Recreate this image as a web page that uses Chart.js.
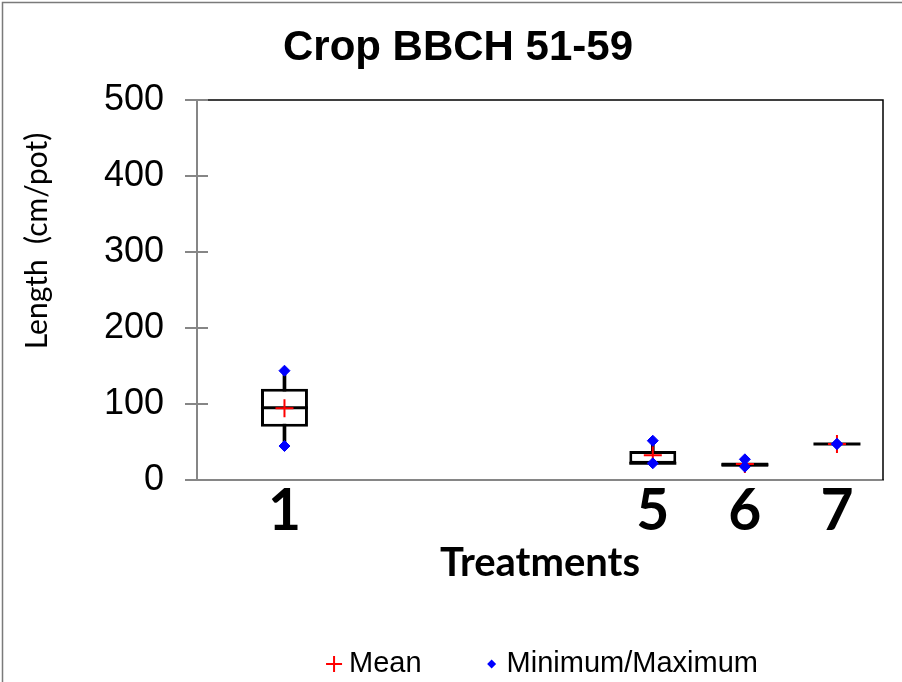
<!DOCTYPE html>
<html>
<head>
<meta charset="utf-8">
<title>Crop BBCH 51-59</title>
<script src="https://cdn.jsdelivr.net/npm/chart.js@4.4.1/dist/chart.umd.min.js"></script>
<style>
  html, body { margin: 0; padding: 0; background: #fff; }
</style>
</head>
<body>
<canvas id="boxChart" width="902" height="682"></canvas>
<script>
// box plot values per treatment (cm/pot)
const treatments = [1, 5, 6, 7];
const minValues = [44.7, 22, 17.5, 47.4];
const q1Values = [70, 21.5, 17.5, 47.4];
const medianValues = [95, 22, 20, 47.4];
const q3Values = [120, 38, 23, 47.4];
const maxValues = [143.8, 51.7, 27.2, 47.4];
const meanValues = [94.5, 32.5, 21, 47.4];
const yTicks = [0, 100, 200, 300, 400, 500];
const legendLabels = ['Mean', 'Minimum/Maximum'];

const axisGray = '#868686';

function points(vals) {
    return treatments.map((t, i) => ({ x: t, y: vals[i] }));
}

function range(lo, hi) {
    return treatments.map((t, i) => ({ x: t, y: [lo[i], hi[i]] }));
}

// frame, tick marks crossing the y axis, rotated y title and the legend
const decorations = {
    id: 'decorations',
    beforeDraw(chart) {
        const ctx = chart.ctx;
        ctx.save();
        ctx.strokeStyle = '#7a7a7a';
        ctx.lineWidth = 1.5;
        ctx.strokeRect(2.5, 2.5, chart.width + 20, chart.height + 20);
        ctx.restore();
    },
    afterDraw(chart) {
        const ctx = chart.ctx;
        const area = chart.chartArea;
        const yScale = chart.scales.y;
        ctx.save();

        ctx.strokeStyle = '#000';
        ctx.lineWidth = 1.5;
        ctx.beginPath();
        ctx.moveTo(area.left, area.top);
        ctx.lineTo(area.right, area.top);
        ctx.lineTo(area.right, area.bottom);
        ctx.stroke();

        ctx.strokeStyle = axisGray;
        ctx.lineWidth = 2;
        yScale.ticks.forEach(t => {
            const y = yScale.getPixelForValue(t.value);
            ctx.beginPath();
            ctx.moveTo(area.left - 12, y);
            ctx.lineTo(area.left + 11, y);
            ctx.stroke();
        });

        // y axis title
        ctx.save();
        ctx.translate(area.left - 160, area.top + (area.bottom - area.top) * 0.371);
        ctx.rotate(-Math.PI / 2);
        ctx.fillStyle = '#000';
        ctx.font = '30px Lato';
        ctx.textAlign = 'center';
        ctx.textBaseline = 'middle';
        ctx.fillText('Length  (cm/pot)', 0, 0);
        ctx.restore();

        // legend
        ctx.font = '29px "Liberation Sans"';
        ctx.textBaseline = 'middle';
        ctx.textAlign = 'left';
        const items = chart.data.datasets.filter(d => legendLabels.includes(d.label));
        const iconGap = 15, itemGap = 70;
        const widths = items.map(d => ctx.measureText(d.label).width);
        let total = 8;
        widths.forEach((w, i) => { total += iconGap + w + (i < widths.length - 1 ? itemGap : 0); });
        let x = (area.left + area.right) / 2 - total / 2 + 10;
        const y = chart.height - 18;
        items.forEach((d, i) => {
            ctx.fillStyle = d.pointBackgroundColor;
            ctx.strokeStyle = d.pointBorderColor;
            ctx.lineWidth = 2;
            ctx.beginPath();
            if (d.pointStyle === 'cross') {
                ctx.moveTo(x - 8, y); ctx.lineTo(x + 8, y);
                ctx.moveTo(x, y - 8); ctx.lineTo(x, y + 8);
                ctx.stroke();
            } else {
                ctx.moveTo(x, y - 4.5); ctx.lineTo(x + 4.5, y);
                ctx.lineTo(x, y + 4.5); ctx.lineTo(x - 4.5, y);
                ctx.closePath();
                ctx.fill();
            }
            ctx.fillStyle = '#000';
            ctx.fillText(d.label, x + iconGap, y);
            x += iconGap + widths[i] + itemGap;
        });

        ctx.restore();
    }
};

new Chart(document.getElementById('boxChart'), {
    type: 'bar',
    data: {
        datasets: [
            {
                label: 'Whisker',
                data: range(minValues, maxValues),
                backgroundColor: '#000',
                barThickness: 3,
                grouped: false,
                order: 5
            },
            {
                label: 'Box',
                data: range(q1Values, q3Values),
                backgroundColor: '#fff',
                borderColor: '#000',
                borderWidth: 3,
                borderSkipped: false,
                grouped: false,
                categoryPercentage: 1,
                barPercentage: 0.51,
                order: 4
            },
            {
                label: 'Median',
                type: 'scatter',
                data: points(medianValues),
                pointStyle: 'line',
                pointRadius: 23.5,
                pointBorderColor: '#000',
                pointBorderWidth: 3,
                order: 3
            },
            {
                label: 'Mean',
                type: 'scatter',
                data: points(meanValues),
                pointStyle: 'cross',
                pointRadius: 9,
                pointBorderColor: '#ff0000',
                pointBackgroundColor: '#ff0000',
                pointBorderWidth: 2,
                order: 2
            },
            {
                label: 'Minimum/Maximum',
                type: 'scatter',
                data: points(minValues).concat(points(maxValues)),
                pointStyle: 'rectRot',
                pointRadius: 5.5,
                pointBorderColor: '#0000ff',
                pointBackgroundColor: '#0000ff',
                pointBorderWidth: 1,
                order: 1
            }
        ]
    },
    options: {
        responsive: false,
        animation: false,
        layout: { autoPadding: false, padding: { left: 33, right: 19, top: 0, bottom: 92 } },
        plugins: {
            legend: { display: false },
            tooltip: { enabled: false },
            title: {
                display: true,
                text: 'Crop BBCH 51-59',
                color: '#000',
                font: { family: 'Liberation Sans', size: 42, weight: 'bold', lineHeight: 1.2 },
                padding: { top: 23, bottom: 26.6 }
            }
        },
        scales: {
            x: {
                type: 'linear',
                min: 0.05,
                max: 7.5,
                offset: false,
                afterBuildTicks: s => { s.ticks = treatments.map(v => ({ value: v })); },
                afterFit: s => { s.height = 110; },
                grid: { display: false, drawTicks: false },
                border: { display: true, color: axisGray, width: 2 },
                ticks: {
                    color: '#000',
                    autoSkip: false,
                    maxRotation: 0,
                    padding: 2,
                    font: { family: 'Lato', size: 57, weight: 'bold', lineHeight: 1.05 },
                    callback: v => String(v)
                },
                title: {
                    display: true,
                    text: 'Treatments',
                    color: '#000',
                    font: { family: 'Lato', size: 40, weight: 'bold' },
                    padding: { top: 0, bottom: 3 }
                }
            },
            y: {
                min: 0,
                max: 500,
                afterBuildTicks: s => { s.ticks = yTicks.map(v => ({ value: v })); },
                afterFit: s => { s.width = 164; },
                grid: { display: false, drawTicks: false },
                border: { display: true, color: axisGray, width: 2 },
                ticks: {
                    color: '#000',
                    padding: 33,
                    font: { family: 'Liberation Sans', size: 36 }
                }
            }
        }
    },
    plugins: [decorations]
});
</script>
</body>
</html>
